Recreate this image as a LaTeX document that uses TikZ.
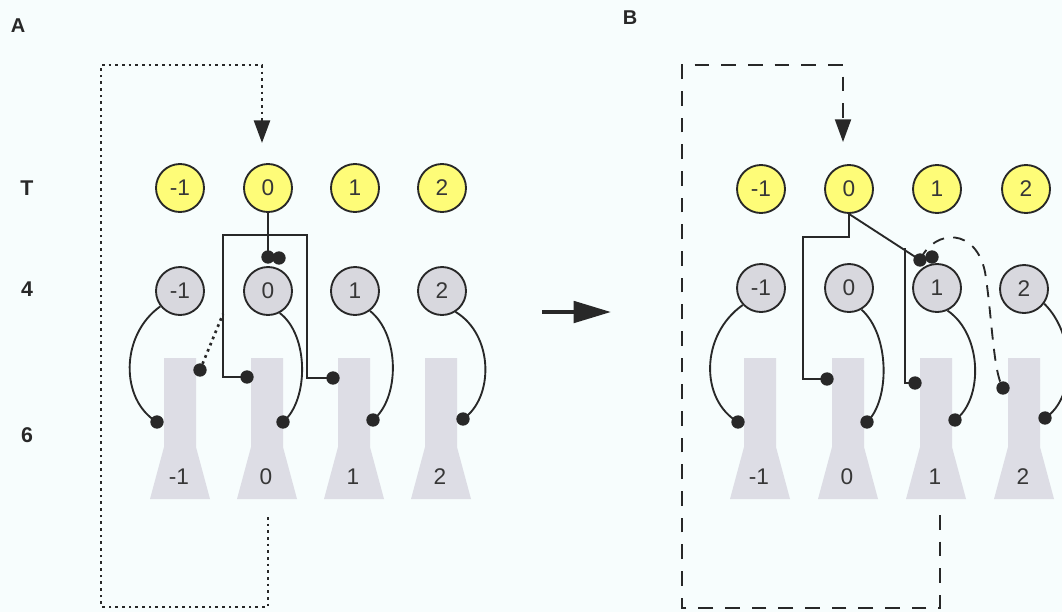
\documentclass[tikz,border=0pt]{standalone}
\usepackage{fontspec}
\setmainfont{Liberation Sans}
\usetikzlibrary{arrows.meta}
\definecolor{bgc}{RGB}{247,253,253}
\definecolor{ink}{RGB}{40,40,40}
\definecolor{sun}{RGB}{254,252,120}
\definecolor{pale}{RGB}{216,216,222}
\definecolor{vial}{RGB}{221,221,229}
\definecolor{numc}{RGB}{55,55,55}
\begin{document}
\begin{tikzpicture}[x=0.75pt,y=-0.75pt,
  yel/.style={circle, draw=ink, fill=sun, line width=1.4pt, minimum size=36pt, inner sep=0pt,
    font=\fontsize{17}{17}\selectfont, text=numc},
  grc/.style={circle, draw=ink, fill=pale, line width=1.4pt, minimum size=36pt, inner sep=0pt,
    font=\fontsize{17}{17}\selectfont, text=numc},
  dot/.style={circle, fill=ink, minimum size=10pt, inner sep=0pt},
  conn/.style={draw=ink, line width=1.4pt},
  dots/.style={draw=ink, line width=2pt, dash pattern=on 2pt off 3pt},
  longdash/.style={draw=ink, line width=1.5pt, dash pattern=on 11pt off 9pt},
  shortdash/.style={draw=ink, line width=1.4pt, dash pattern=on 9pt off 7pt},
  tip/.style={-{Triangle[length=17pt,width=12pt]}},
  head/.style={font=\fontsize{15}{15}\selectfont\bfseries, text=ink},
  btxt/.style={font=\fontsize{17}{17}\selectfont, text=numc}]

\useasboundingbox (0,0) rectangle (1062,612);
\fill[bgc] (0,0) rectangle (1062,612);
\clip (0,0) rectangle (1062,612);

% panel and row headings
\node[head] (hA) at (18,26) {A};
\node[head] (hB) at (630,18) {B};
\node[head, font=\fontsize{16}{16}\selectfont\bfseries] (rT) at (27,188) {T};
\node[head, font=\fontsize{16}{16}\selectfont\bfseries] (r4) at (27,289) {4};
\node[head, font=\fontsize{16}{16}\selectfont\bfseries] (r6) at (27,435) {6};

% stage-6 bodies
\foreach \p/\x/\t/\n in {A/180/-1/m1, A/267/0/0, A/354/1/1, A/441/2/2,
                         B/760/-1/m1, B/848/0/0, B/936/1/1, B/1024/2/2} {
  \fill[vial] (\x-16,358) -- (\x+16,358) -- (\x+16,447) -- (\x+30,499)
              -- (\x-30,499) -- (\x-16,447) -- cycle;
  \node[btxt] (b\p\n) at (\x-1,477) {\t};
}

% panel A: T row and stage-4 row
\node[yel] (yAm1) at (180,188) {-1};
\node[yel] (yA0)  at (268,188) {0};
\node[yel] (yA1)  at (355,188) {1};
\node[yel] (yA2)  at (442,188) {2};
\node[grc] (gAm1) at (180,291) {-1};
\node[grc] (gA0)  at (268,291) {0};
\node[grc] (gA1)  at (355,291) {1};
\node[grc] (gA2)  at (442,291) {2};

% panel B: T row and stage-4 row
\node[yel] (yBm1) at (761,189) {-1};
\node[yel] (yB0)  at (849,189) {0};
\node[yel] (yB1)  at (937,189) {1};
\node[yel] (yB2)  at (1026,189) {2};
\node[grc] (gBm1) at (761,288) {-1};
\node[grc] (gB0)  at (849,288) {0};
\node[grc] (gB1)  at (937,288) {1};
\node[grc] (gB2)  at (1024,289) {2};

% stage-4 to stage-6 arcs, panel A
\coordinate (eAm1) at (157,422);
\coordinate (eA0)  at (283,422);
\coordinate (eA1)  at (373,420);
\coordinate (eA2)  at (463,419);
\draw[conn] (gAm1.218) .. controls (120,335) and (120,400) .. (eAm1);
\draw[conn] (gA0.-62) .. controls (309,335) and (309,400) .. (eA0);
\draw[conn] (gA1.-53) .. controls (400,335) and (400,398) .. (eA1);
\draw[conn] (gA2.-57) .. controls (494,335) and (494,398) .. (eA2);

% stage-4 to stage-6 arcs, panel B
\coordinate (eBm1) at (738,422);
\coordinate (eB0)  at (867,422);
\coordinate (eB1)  at (955,420);
\coordinate (eB2)  at (1045,418);
\draw[conn] (gBm1.223) .. controls (700,335) and (700,400) .. (eBm1);
\draw[conn] (gB0.-60) .. controls (890,335) and (890,400) .. (eB0);
\draw[conn] (gB1.-65) .. controls (983,335) and (983,400) .. (eB1);
\draw[conn] (gB2.-36) .. controls (1076,335) and (1076,398) .. (eB2);

% contact points, panel A
\node[dot] (dAm1d) at (eAm1) {};
\node[dot] (dAm1b) at (200,370) {};
\node[dot] (dA0a)  at (268,257) {};
\node[dot] (dA0c)  at (279,258) {};
\node[dot] (dA0b)  at (247,377) {};
\node[dot] (dA0d)  at (eA0) {};
\node[dot] (dA1b)  at (333,378) {};
\node[dot] (dA1d)  at (eA1) {};
\node[dot] (dA2d)  at (eA2) {};

% contact points, panel B
\node[dot] (dBm1d) at (eBm1) {};
\node[dot] (dB0b)  at (827,379) {};
\node[dot] (dB0d)  at (eB0) {};
\node[dot] (dB1a)  at (920,260) {};
\node[dot] (dB1c)  at (932,257) {};
\node[dot] (dB1b)  at (915,383) {};
\node[dot] (dB1d)  at (eB1) {};
\node[dot] (dB2b)  at (1003,388) {};
\node[dot] (dB2d)  at (eB2) {};

% panel A: T(0) link and the box around stage-4 cell 0
\draw[conn] (yA0.south) -- (dA0a.center);
\draw[conn] (dA0b.center) -| (223,235) -| (307,378) -- (dA1b.center);
\coordinate (qA) at (223,314);
\draw[dots] (dAm1b.center) -- (qA);

% panel B: links from T(0)
\draw[conn] (yB0.south) |- (803,237) |- (dB0b.center);
\draw[conn] (yB0.south) -- (dB1a.center);
\coordinate (brB) at (905,248);
\draw[conn] (brB) |- (dB1b.center);
\draw[shortdash] (dB1a.center) .. controls (935,228) and (976,228) .. (985,272)
   .. controls (992,315) and (993,372) .. (dB2b.center);

% feedback loops
\coordinate (lA0) at (268,517);
\draw[dots, tip] (lA0) -- (268,607) -- (101,607) -- (101,65) -- (262,65) -- (262,143);
\coordinate (lB0) at (940,515);
\draw[longdash, tip] (lB0) -- (940,608) -- (682,608) -- (682,65) -- (843,65) -- (843,142);

% transition arrow between the panels
\coordinate (mA) at (542,312);
\coordinate (mB) at (611,312);
\draw[ink, line width=3pt, -{Triangle[length=28pt,width=16pt]}] (mA) -- (mB);
\end{tikzpicture}
\end{document}
